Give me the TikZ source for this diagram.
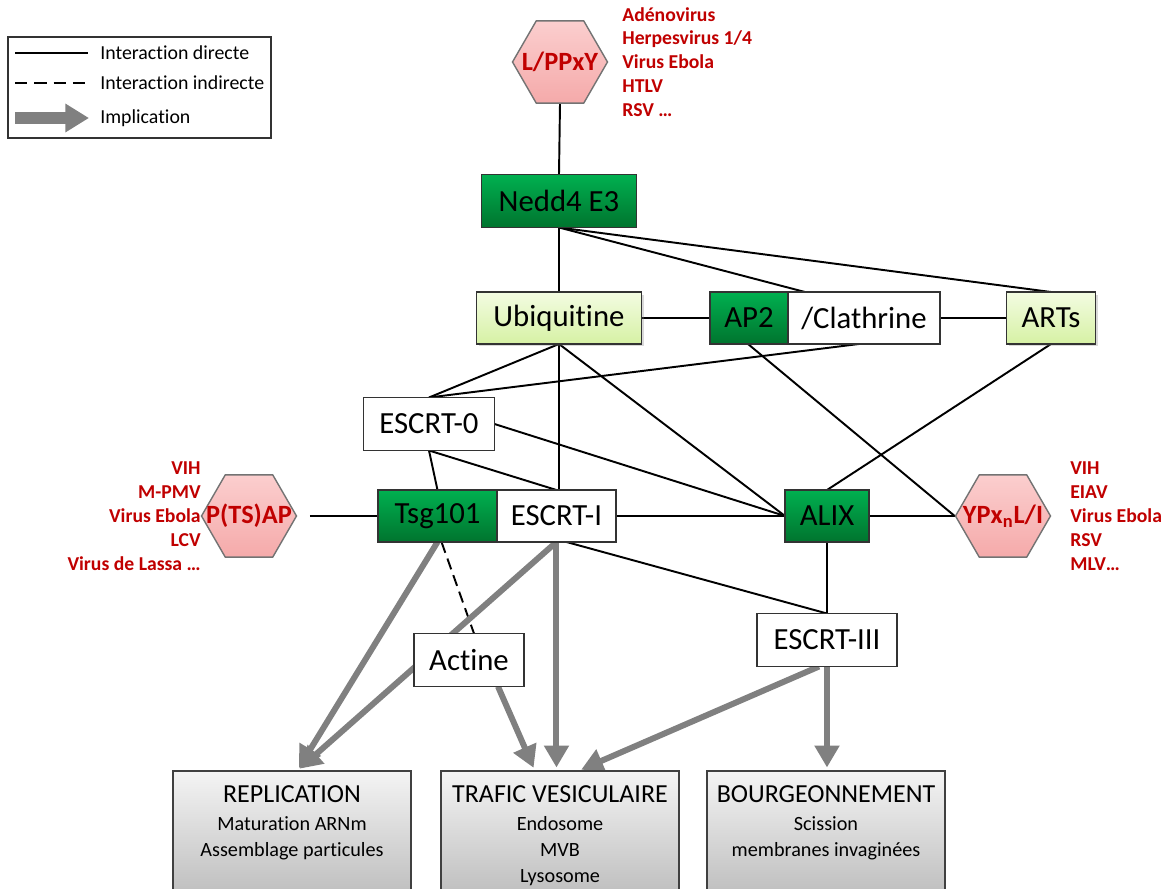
\documentclass[tikz,border=0pt]{standalone}
\usepackage{fontspec}
\setmainfont{Carlito}[Ligatures=NoCommon]
\usepackage{tikz}
\usetikzlibrary{positioning,shapes.geometric,arrows.meta,backgrounds,shadows}
\definecolor{dgreen}{RGB}{0,176,80}
\definecolor{dgreenb}{RGB}{0,116,46}
\definecolor{lgreen}{RGB}{243,252,226}
\definecolor{lgreenb}{RGB}{214,241,164}
\definecolor{vred}{RGB}{192,0,0}
\definecolor{pinkt}{RGB}{251,206,206}
\definecolor{pinkb}{RGB}{245,170,170}
\definecolor{impl}{RGB}{128,128,128}
\definecolor{boxt}{RGB}{244,244,244}
\definecolor{boxb}{RGB}{186,186,186}

\begin{document}
\begin{tikzpicture}[x=0.02cm, y=-0.02cm, plain/.style = {shape=rectangle, draw=black!80, line width=0.8pt, fill=white, align=center, outer sep=0pt, minimum height=1.04cm, font=\fontsize{17.5}{21}\selectfont}, selected/.style = {plain, top color=dgreen, bottom color=dgreenb}, light/.style = {plain, top color=lgreen, bottom color=lgreenb, drop shadow={shadow xshift=0.05cm, shadow yshift=-0.05cm, opacity=0.3}}, hexa/.style = {shape=regular polygon, regular polygon sides=6, minimum size=1.9cm, inner sep=0pt, draw=black!55, line width=0.8pt, top color=pinkt, bottom color=pinkb}, hexlbl/.style = {text=vred, font=\bfseries\fontsize{15}{18}\selectfont, inner sep=0pt}, virlist/.style = {text=vred, font=\bfseries\fontsize{11.2}{13.6}\selectfont, inner sep=0pt}, result/.style = {shape=rectangle, draw=black!75, line width=0.8pt, top color=boxt, bottom color=boxb, minimum width=4.76cm, minimum height=2.68cm, outer sep=0pt}, resulttxt/.style = {align=center, inner sep=0pt, anchor=north, font=\fontsize{11.5}{14.8}\selectfont}, legtxt/.style = {anchor=west, inner sep=0pt, font=\fontsize{11.3}{13.5}\selectfont}, link/.style = {draw=black, line width=1.1pt}, indirect/.style = {link, dash pattern=on 6.5pt off 3.5pt}, implies/.style = {draw=impl, line width=3.4pt, -{Triangle[width=13.6pt,length=12.5pt]}, shorten >=2pt}]
	\useasboundingbox (0,0) rectangle (1171,889);
	% legende
	\node[shape=rectangle, draw=black!80, line width=0.8pt, minimum width=5.26cm, minimum height=2.02cm] (legend) at (139.5,87.5) {};
	\coordinate (sa) at (15,53); \coordinate (sb) at (88,53);
	\coordinate (da) at (15,83); \coordinate (db) at (88,83);
	\coordinate (ia) at (15,118); \coordinate (ib) at (89,118);
	\draw[link] (sa) -- (sb);
	\draw[indirect, dash pattern=on 7pt off 4pt] (da) -- (db);
	\draw[draw=impl, line width=6.5pt, -{Triangle[width=15.5pt,length=13.5pt]}] (ia) -- (ib);
	\node[legtxt] (directe) at (100,53) {Interaction directe};
	\node[legtxt] (indirecte) at (100,83) {Interaction indirecte};
	\node[legtxt] (implication) at (100,118) {Implication};
	% motifs viraux
	\node[hexa] (lppxy) at (560,62) {};
	\node[hexlbl] (lppxyl) at (lppxy) {L/PPxY};
	\node[virlist, align=left, anchor=west] (vtop) at (622,62) {Adénovirus\\Herpesvirus 1/4\\Virus Ebola\\HTLV\\RSV …};
	\node[hexa] (ptsap) at (249,516) {};
	\node[hexlbl] (ptsapl) at (ptsap) {P(TS)AP};
	\node[virlist, align=right, anchor=east] (vleft) at (201,516) {VIH\\M-PMV\\Virus Ebola\\LCV\\Virus de Lassa …};
	\node[hexa] (ypx) at (1003,516) {};
	\node[hexlbl] (ypxl) at (ypx) {YPx\textsubscript{n}L/I};
	\node[virlist, align=left, anchor=west] (vright) at (1070,516) {VIH\\EIAV\\Virus Ebola\\RSV\\MLV…};
	% proteines
	\node[selected, minimum width=3.1cm, minimum height=1.06cm] (nedd) at (559,201) {Nedd4 E3};
	\node[light, minimum width=3.3cm] (ubi) at (559,318) {Ubiquitine};
	\node[selected, minimum width=1.56cm] (ap2) at (749,318) {AP2};
	\node[plain, minimum width=3.04cm, right=0pt of ap2] (clath) {/Clathrine};
	\node[light, minimum width=1.78cm] (arts) at (1051,318) {ARTs};
	\node[plain, minimum width=2.62cm, minimum height=1.06cm] (escrt0) at (429,424) {ESCRT-0};
	\node[selected, minimum width=2.38cm] (tsg) at (437.5,516) {Tsg101};
	\node[plain, minimum width=2.38cm, right=0pt of tsg] (escrt1) {ESCRT-I};
	\node[selected, minimum width=1.68cm] (alix) at (827,516) {ALIX};
	\node[plain, minimum width=2.8cm, minimum height=1.06cm] (escrt3) at (827,640) {ESCRT-III};
	\node[plain, minimum width=2.2cm, minimum height=1.06cm] (actine) at (469,660) {Actine};
	% fonctions
	\node[result] (repl) at (292,838) {};
	\node[result] (traf) at (560,838) {};
	\node[result] (bourg) at (826,838) {};
	\node[resulttxt] (repltxt) at ([yshift=-0.28cm]repl.north) {{\fontsize{14.8}{18}\selectfont REPLICATION}\\[1pt]Maturation ARNm\\Assemblage particules};
	\node[resulttxt] (traftxt) at ([yshift=-0.28cm]traf.north) {{\fontsize{14.8}{18}\selectfont TRAFIC VESICULAIRE}\\[1pt]Endosome\\MVB\\Lysosome};
	\node[resulttxt] (bourgtxt) at ([yshift=-0.28cm]bourg.north) {{\fontsize{14.8}{18}\selectfont BOURGEONNEMENT}\\[1pt]Scission\\membranes invaginées};
	\begin{scope}[on background layer]
		\draw[link] (lppxy.south) -- (nedd.north);
		\draw[link] (nedd.south) -- (ubi.north);
		\draw[link] (nedd.south) -- ([xshift=0.34cm]clath.north west);
		\draw[link] (nedd.south) -- (arts.north);
		\draw[link] (ubi.east) -- (ap2.west);
		\draw[link] (clath.east) -- (arts.west);
		\draw[link] (ubi.south) -- (escrt0.north);
		\draw[link] (ubi.south) -- (ubi.south |- escrt1.north);
		\draw[link] (ubi.south) -- (alix.west);
		\draw[link] ([xshift=-1.62cm]clath.south east) -- (escrt0.north);
		\draw[link] ([xshift=0.76cm]ap2.south west) -- (ypx.west);
		\draw[link] (arts.south) -- (alix.north);
		\draw[link] (escrt0.south) -- (tsg.north);
		\draw[link] (escrt0.south) -- (escrt1.north);
		\draw[link] (escrt0.east) -- (alix.west);
		\draw[link] (escrt1.east) -- (alix.west);
		\draw[link] (alix.east) -- (ypx.west);
		\draw[link, shorten <=0.25cm] (ptsap.east) -- (tsg.west);
		\draw[link] ([xshift=0.2cm]escrt1.south) -- (escrt3.north);
		\draw[link] (alix.south) -- (escrt3.north);
		\draw[indirect] ([xshift=0.08cm]tsg.south) -- ([xshift=0.1cm]actine.north);
		% implications
		\draw[implies] (tsg.south) -- ([xshift=0.1cm]repl.north);
		\draw[implies] (escrt1.south) -- ([xshift=0.1cm]repl.north);
		\draw[implies] ([xshift=0.58cm]actine.south) -- ([xshift=-0.5cm]traf.north);
		\draw[implies] (escrt1.south) -- (escrt1.south |- traf.north);
		\draw[implies] ([xshift=-0.16cm]escrt3.south) -- ([xshift=0.36cm]traf.north);
		\draw[implies] (escrt3.south) -- (escrt3.south |- bourg.north);
	\end{scope}
\end{tikzpicture}
\end{document}
